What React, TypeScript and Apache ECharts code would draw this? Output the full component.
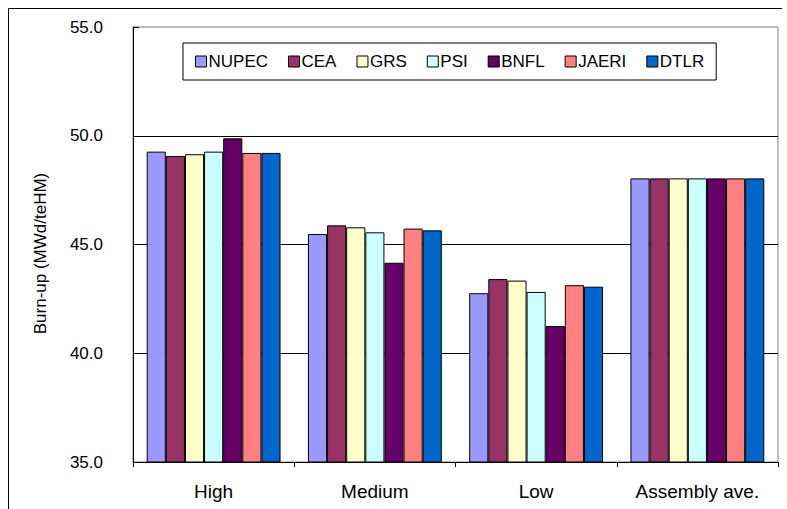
import React, { useEffect, useRef } from "react";
import * as echarts from "echarts";

const categories = ["High", "Medium", "Low", "Assembly ave."];
const seriesNames = ["NUPEC", "CEA", "GRS", "PSI", "BNFL", "JAERI", "DTLR"];
const colors = ["#9999FF", "#993366", "#FFFFCC", "#CCFFFF", "#660066", "#FF8080", "#0066CC"];
const NUPEC = [49.27, 45.48, 42.76, 48.04];
const CEA = [49.07, 45.88, 43.41, 48.04];
const GRS = [49.15, 45.79, 43.34, 48.04];
const PSI = [49.27, 45.56, 42.82, 48.04];
const BNFL = [49.88, 44.16, 41.25, 48.04];
const JAERI = [49.21, 45.73, 43.13, 48.04];
const DTLR = [49.21, 45.65, 43.06, 48.04];
const values = [NUPEC, CEA, GRS, PSI, BNFL, JAERI, DTLR];
const yMin = 35;
const yMax = 55;
const yInterval = 5;

const FONT = "'Liberation Sans', Arial, sans-serif";

export default function App() {
  const ref = useRef<HTMLDivElement>(null);
  useEffect(() => {
    if (!ref.current) return;
    const chart = echarts.init(ref.current, undefined, { renderer: "svg" });
    chart.setOption({
      animation: false,
      backgroundColor: "#fff",
      textStyle: { fontFamily: FONT },
      grid: {
        left: 133,
        top: 27,
        right: 9,
        bottom: 47,
        show: true,
        borderColor: "#808080",
        borderWidth: 1,
        backgroundColor: "transparent",
      },
      legend: {
        data: seriesNames,
        left: 183,
        top: 43,
        icon: "rect",
        itemWidth: 11,
        itemHeight: 11,
        itemGap: 20,
        padding: [10, 12, 10, 12],
        borderColor: "#000",
        borderWidth: 1,
        backgroundColor: "#fff",
        itemStyle: { borderColor: "#000", borderWidth: 1 },
        textStyle: { fontFamily: FONT, fontSize: 17, color: "#000", padding: [0, 0, 0, -3] },
      },
      xAxis: {
        type: "category",
        data: categories,
        axisLine: { lineStyle: { color: "#000", width: 1 } },
        axisTick: { show: true, inside: false, length: 5, lineStyle: { color: "#000" } },
        axisLabel: { fontFamily: FONT, fontSize: 19, color: "#000", margin: 20 },
      },
      yAxis: {
        type: "value",
        min: yMin,
        max: yMax,
        interval: yInterval,
        name: "Burn-up (MWd/teHM)",
        nameLocation: "middle",
        nameGap: 84,
        nameRotate: 90,
        nameTextStyle: { fontFamily: FONT, fontSize: 17, color: "#000", padding: [0, 18, 0, 0] },
        axisLine: { show: true, lineStyle: { color: "#000", width: 1 } },
        axisTick: { show: true, inside: true, length: 6, lineStyle: { color: "#000" } },
        axisLabel: {
          fontFamily: FONT,
          fontSize: 17,
          color: "#000",
          margin: 30,
          formatter: (v: number) => v.toFixed(1),
        },
        splitLine: { show: true, showMaxLine: false, lineStyle: { color: "#000", width: 1 } },
      },
      graphic: [
        { type: "line", shape: { x1: 8.5, y1: 8.5, x2: 782, y2: 8.5 }, style: { stroke: "#000", lineWidth: 1 } },
        { type: "line", shape: { x1: 8.5, y1: 8.5, x2: 8.5, y2: 509 }, style: { stroke: "#000", lineWidth: 1 } },
      ],
      series: seriesNames.map((name, i) => ({
        name,
        type: "bar",
        data: values[i],
        barGap: "0%",
        barCategoryGap: "17%",
        itemStyle: { color: colors[i], borderColor: "#000", borderWidth: 1 },
      })),
    });
    return () => chart.dispose();
  }, []);
  return <div ref={ref} style={{ position: "absolute", left: 0, top: 0, width: 787, height: 509 }} />;
}
